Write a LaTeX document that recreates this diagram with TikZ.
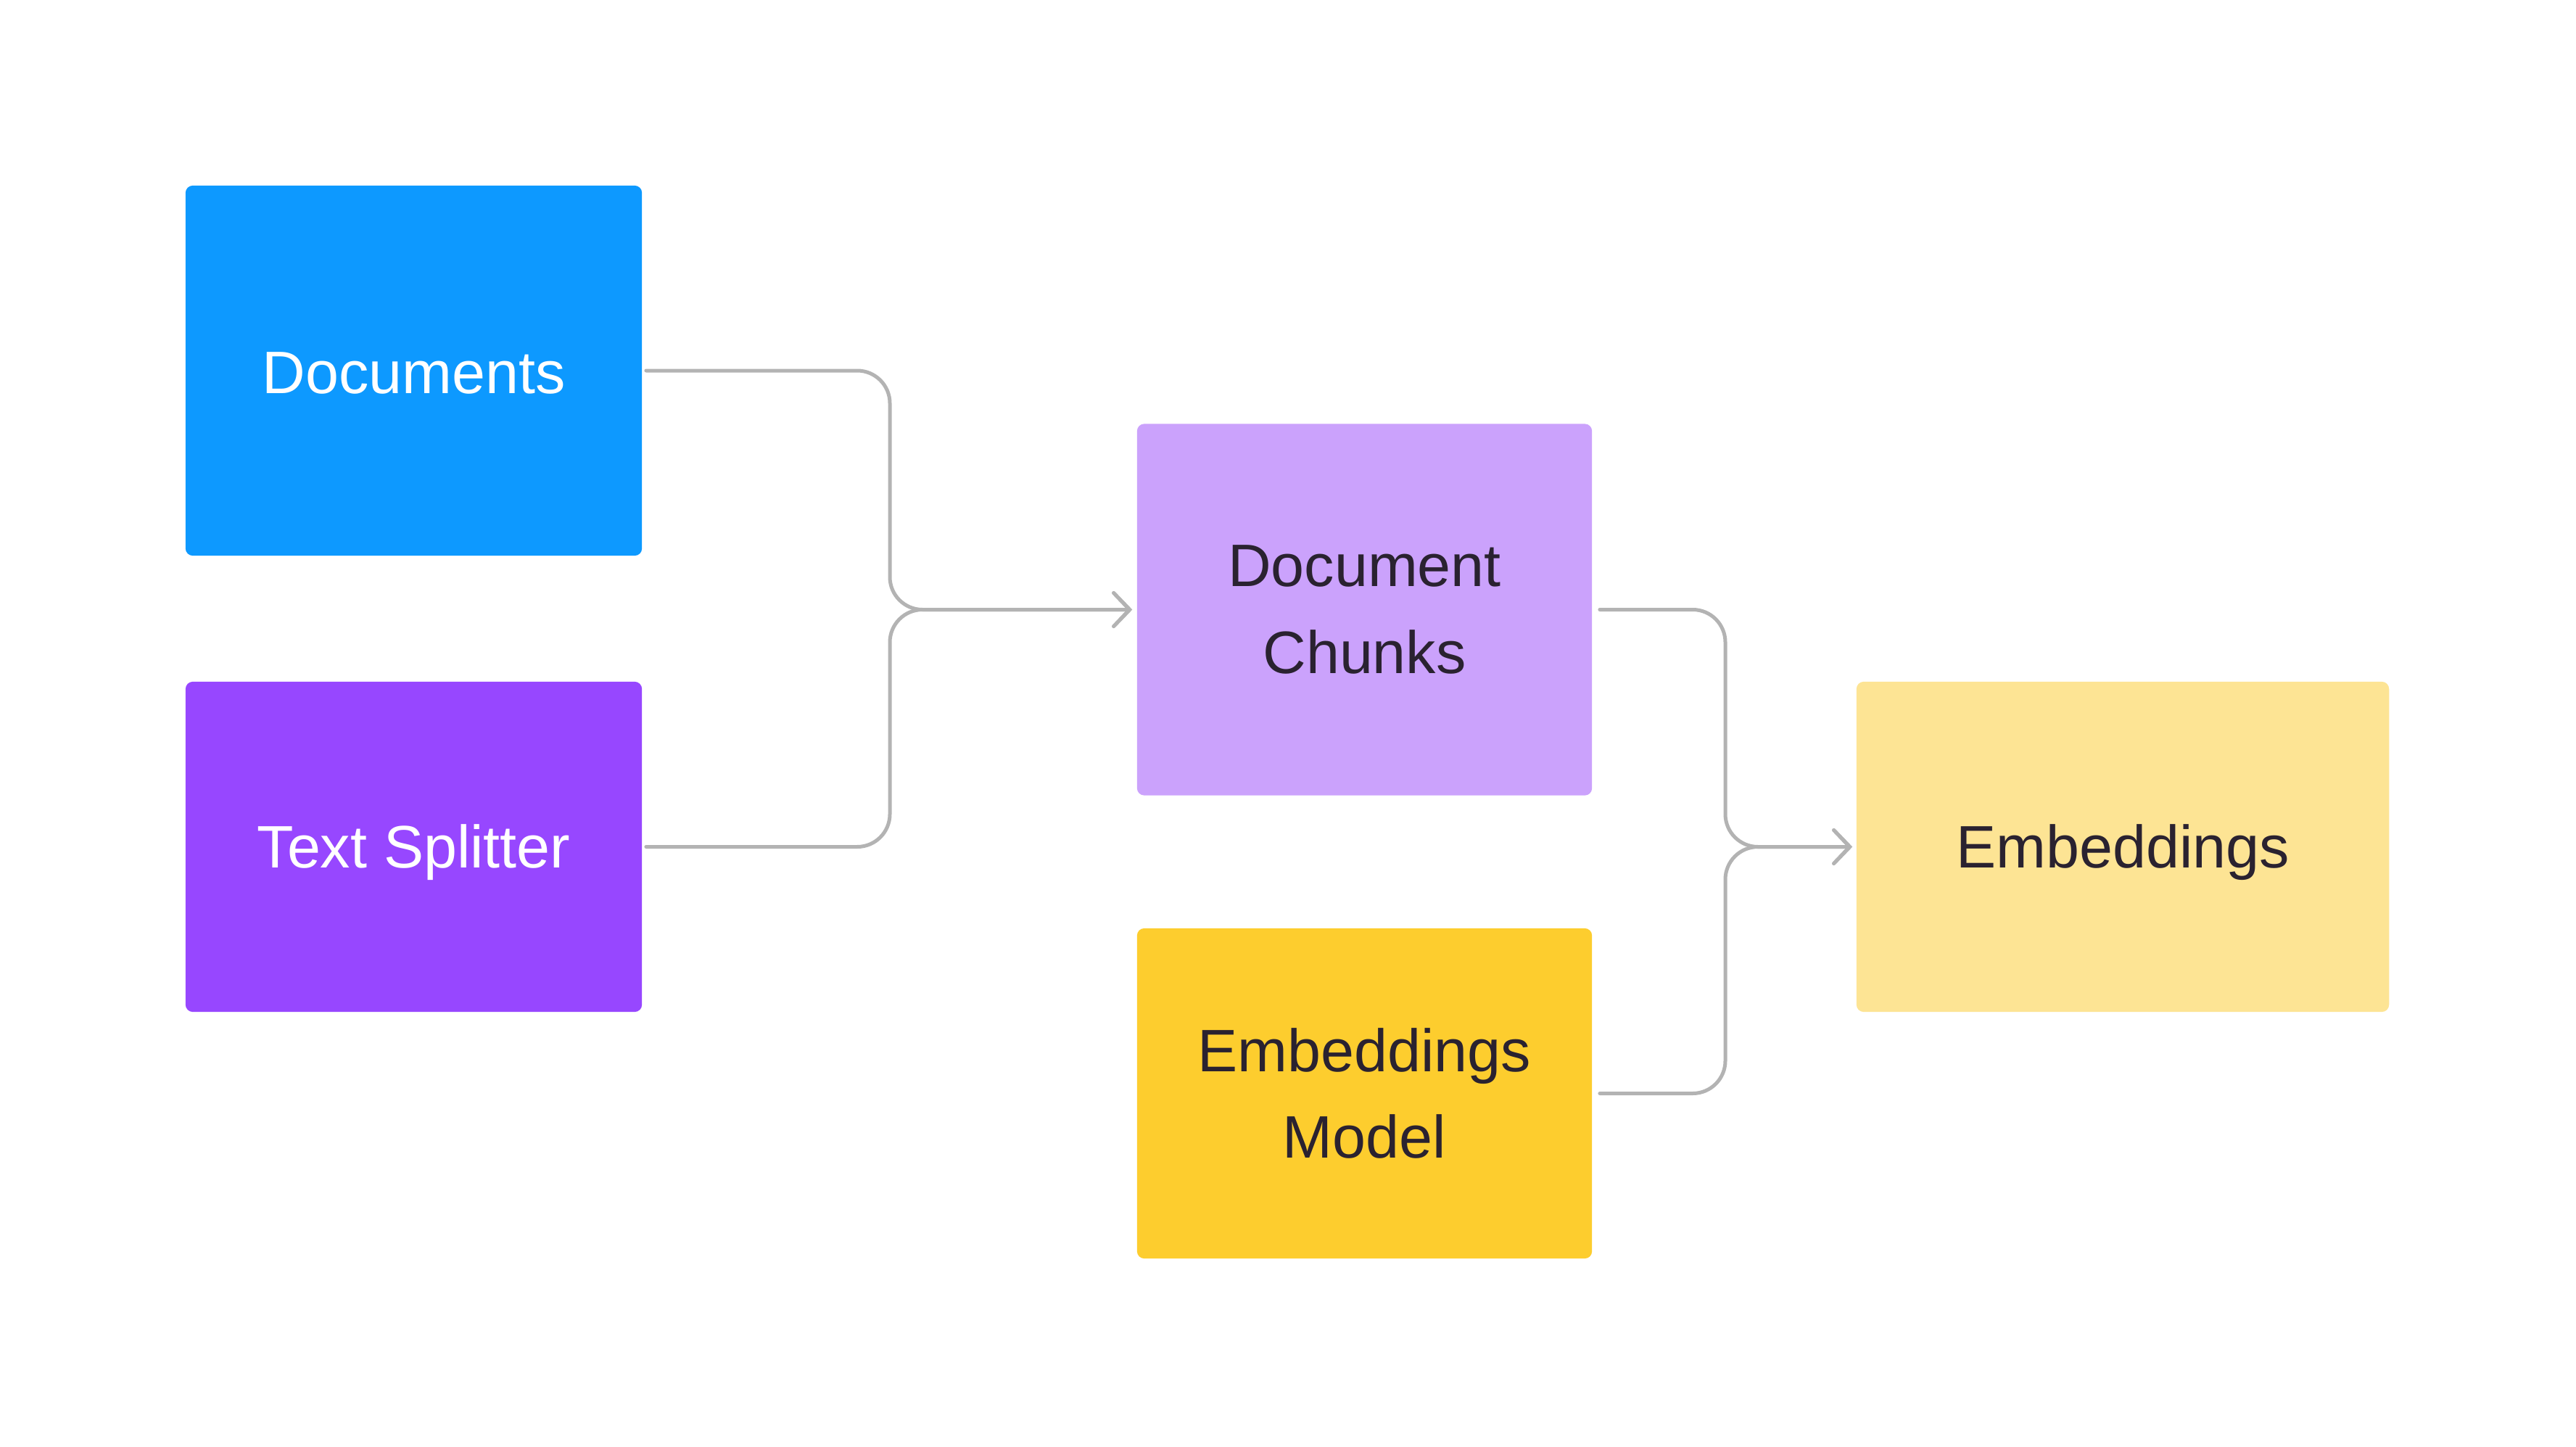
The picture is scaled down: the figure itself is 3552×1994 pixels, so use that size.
\documentclass[tikz,border=0pt]{standalone}
\usepackage{fontspec}
\setmainfont{Liberation Sans}
\usetikzlibrary{arrows.meta}
\definecolor{cblue}{HTML}{0D99FF}
\definecolor{cpurple}{HTML}{9747FF}
\definecolor{clilac}{HTML}{CBA2FC}
\definecolor{cyellow}{HTML}{FDCD2E}
\definecolor{clight}{HTML}{FDE494}
\definecolor{cline}{HTML}{B3B3B3}
\definecolor{ctext}{HTML}{2A2230}
\newcommand{\lowertext}[2]{\raisebox{-#1}[\height][\depth]{#2}}
\tikzset{
  box/.style={rectangle, rounded corners=0.1cm, inner sep=0pt, align=center,
    font=\fontsize{23.5}{34}\selectfont},
  conn/.style={draw=cline, line width=0.05cm, line cap=round, line join=round,
    rounded corners=0.45cm},
  tip/.style={-{Straight Barb[length=0.22cm, width=0.46cm, line cap=round]}}
}
\begin{document}
\begin{tikzpicture}[x=0.01cm, y=-0.01cm]
\fill[white] (0,0) rectangle (3552,1994);
\useasboundingbox (0,0) rectangle (3552,1994);
\node[box, fill=cblue, text=white, minimum width=6.29cm, minimum height=5.10cm] (docs) at (570.5,511) {\lowertext{0.03cm}{Documents}};
\node[box, fill=cpurple, text=white, minimum width=6.29cm, minimum height=4.55cm] (split) at (570.5,1167.5) {\lowertext{0.08cm}{Text Splitter}};
\node[box, fill=clilac, text=ctext, minimum width=6.27cm, minimum height=5.12cm] (chunks) at (1881.5,840.5) {Document\\Chunks};
\node[box, fill=cyellow, text=ctext, minimum width=6.27cm, minimum height=4.55cm] (model) at (1881.5,1507.5) {Embeddings\\Model};
\node[box, fill=clight, text=ctext, minimum width=7.34cm, minimum height=4.55cm] (emb) at (2927,1167.5) {\lowertext{0.08cm}{Embeddings}};
\coordinate (j1) at (1227,840.5);
\coordinate (j2) at (2379,1167.5);
\draw[conn, tip] ([xshift=0.05cm]docs.east) -| (j1) -- ([xshift=-0.06cm]chunks.west);
\draw[conn, tip] ([xshift=0.05cm]split.east) -| (j1) -- ([xshift=-0.06cm]chunks.west);
\draw[conn, tip] ([xshift=0.1cm]chunks.east) -| (j2) -- ([xshift=-0.05cm]emb.west);
\draw[conn, tip] ([xshift=0.1cm]model.east) -| (j2) -- ([xshift=-0.05cm]emb.west);
\end{tikzpicture}
\end{document}
